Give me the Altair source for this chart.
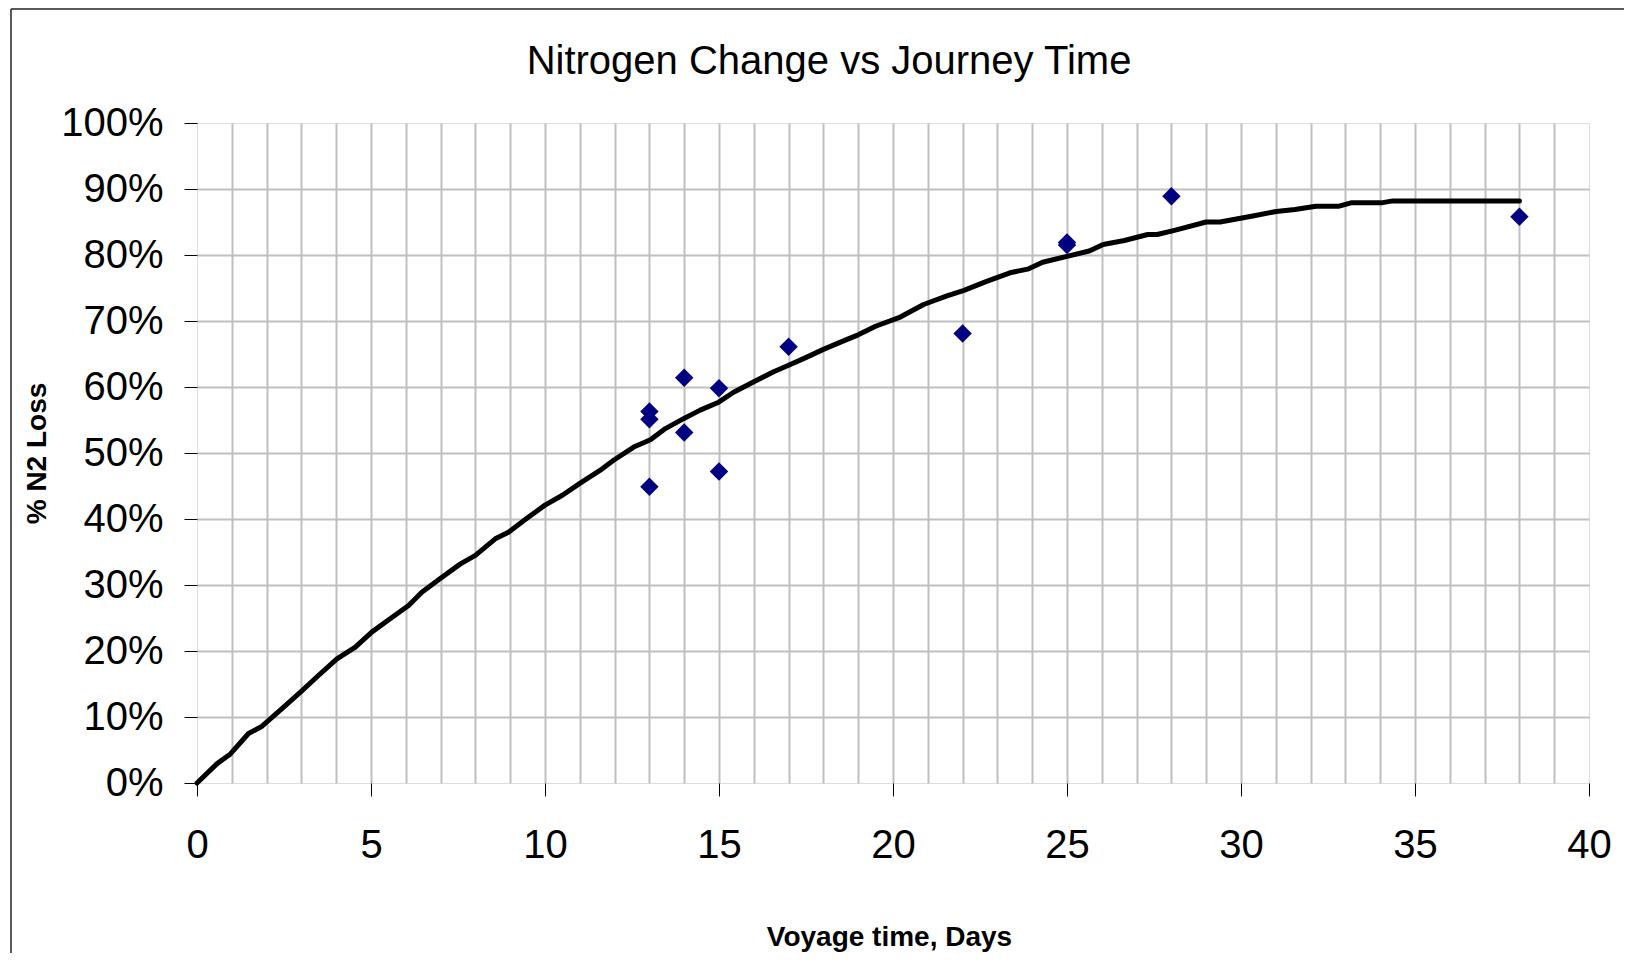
import altair as alt
import pandas as pd

# Measured points (voyage time in days, % N2 loss)
voyage_days = [13, 13, 13, 14, 14, 15, 15, 17, 22, 25, 25, 28, 38]
n2_loss_pct = [56.3, 55.1, 44.9, 61.4, 53.1, 59.8, 47.2, 66.1, 68.1, 81.9, 81.5, 88.9, 85.8]

# Fitted curve
curve_days = [0, 0.57, 0.96, 1.48, 1.87, 2.49, 3.02, 3.45, 4.02, 4.55, 5.03, 5.55, 6.08,
              6.46, 6.99, 7.57, 8.0, 8.57, 8.95, 9.48, 10.0, 10.5, 11.0, 11.59, 11.97,
              12.55, 13.03, 13.46, 13.98, 14.46, 14.99, 15.42, 16.0, 16.57, 17.0, 17.43,
              18.0, 18.63, 19.0, 19.5, 20.21, 20.88, 21.55, 22.02, 22.69, 23.36, 23.9,
              24.3, 25.0, 25.64, 26.04, 26.65, 27.32, 27.59, 28.06, 29.0, 29.4, 30.34,
              31.01, 31.55, 32.15, 32.82, 33.16, 34.03, 34.36, 38.0]
curve_pct = [0, 2.9, 4.4, 7.5, 8.6, 11.5, 14.0, 16.1, 18.8, 20.6, 22.9, 24.9, 26.9,
             28.9, 31.0, 33.2, 34.5, 37.0, 38.0, 40.1, 42.1, 43.6, 45.4, 47.4, 48.9,
             50.9, 52.0, 53.7, 55.2, 56.5, 57.7, 59.2, 60.8, 62.3, 63.3, 64.3,
             65.7, 67.1, 67.9, 69.2, 70.6, 72.5, 73.8, 74.6, 76.0, 77.3, 77.9,
             78.9, 79.8, 80.6, 81.6, 82.2, 83.1, 83.1, 83.7, 85.0, 85.0, 85.9,
             86.6, 86.9, 87.4, 87.4, 87.9, 87.9, 88.2, 88.2]

x_ticks = list(range(0, 41))
y_ticks = list(range(0, 101, 10))

points = pd.DataFrame({"days": voyage_days, "loss": n2_loss_pct})
curve = pd.DataFrame({"days": curve_days, "loss": curve_pct})

FONT = "Liberation Sans"
W, H = 1392, 660
PAD = {"left": 189, "top": 115, "right": 35, "bottom": 170}

x_scale = alt.Scale(domain=[0, 40], nice=False, zero=False)
y_scale = alt.Scale(domain=[0, 100], nice=False)

x_axis = alt.Axis(
    values=x_ticks,
    tickCount=41,
    title="Voyage time, Days",
    titleFont=FONT, titleFontSize=28, titleFontWeight="bold", titleColor="black",
    titleX=692, titleY=154, titleBaseline="middle", titleAlign="center",
    labelFont=FONT, labelFontSize=40, labelColor="black", labelPadding=29,
    labelExpr="datum.value % 5 === 0 ? datum.label : ''", labelOverlap=False,
    labelFlush=False,
    tickSize=13, tickColor="black", tickWidth=1,
    tickOpacity={"condition": {"test": "datum.value % 5 === 0", "value": 1}, "value": 0},
    grid=True, gridColor="#c0c0c0", gridWidth=2,
    gridOpacity={"condition": {"test": "datum.value === 0 || datum.value === 40", "value": 0}, "value": 1},
    domain=False,
)
y_axis = alt.Axis(
    values=y_ticks,
    title="% N2 Loss",
    titleFont=FONT, titleFontSize=28, titleFontWeight="bold", titleColor="black",
    titleX=-160, titleY=330, titleAngle=270, titleBaseline="middle", titleAlign="center",
    labelFont=FONT, labelFontSize=40, labelColor="black", labelPadding=21,
    labelExpr="datum.value + '%'", labelOverlap=False, labelFlush=False,
    labelBaseline="middle",
    tickSize=13, tickColor="black", tickWidth=1,
    grid=True, gridColor="#c0c0c0", gridWidth=2,
    gridOpacity={"condition": {"test": "datum.value === 0 || datum.value === 100", "value": 0}, "value": 1},
    domain=False,
)

line = alt.Chart(curve).mark_line(
    color="black", strokeWidth=5, strokeCap="round", strokeJoin="round"
).encode(
    x=alt.X("days:Q", scale=x_scale, axis=x_axis),
    y=alt.Y("loss:Q", scale=y_scale, axis=y_axis),
    order="days:Q",
)

dots = alt.Chart(points).mark_point(
    shape="diamond", filled=True, color="#000080", size=340, opacity=1
).encode(
    x=alt.X("days:Q", scale=x_scale, axis=x_axis),
    y=alt.Y("loss:Q", scale=y_scale, axis=y_axis),
)

frame_data = alt.Data(values=[{}])
frame_left = alt.Chart(frame_data).mark_rule(color="#222222", strokeWidth=1.5).encode(
    x=alt.value(-186), y=alt.value(-114), y2=alt.value(H + PAD["bottom"])
)
frame_top = alt.Chart(frame_data).mark_rule(color="#222222", strokeWidth=1.5).encode(
    x=alt.value(-186), x2=alt.value(W + PAD["right"]), y=alt.value(-114)
)

chart = alt.layer(line, dots, frame_left, frame_top).properties(
    width=W, height=H,
    padding=PAD,
    autosize=alt.AutoSizeParams(type="none"),
    title=alt.TitleParams(
        "Nitrogen Change vs Journey Time",
        font=FONT, fontSize=40, fontWeight="normal", color="black",
        anchor="middle", baseline="alphabetic", offset=30, dx=-64, dy=136,
    ),
).configure_view(
    stroke="black", strokeWidth=2
).configure(background="white")

chart.save("out.html", embed_options={"renderer": "svg", "actions": False})
